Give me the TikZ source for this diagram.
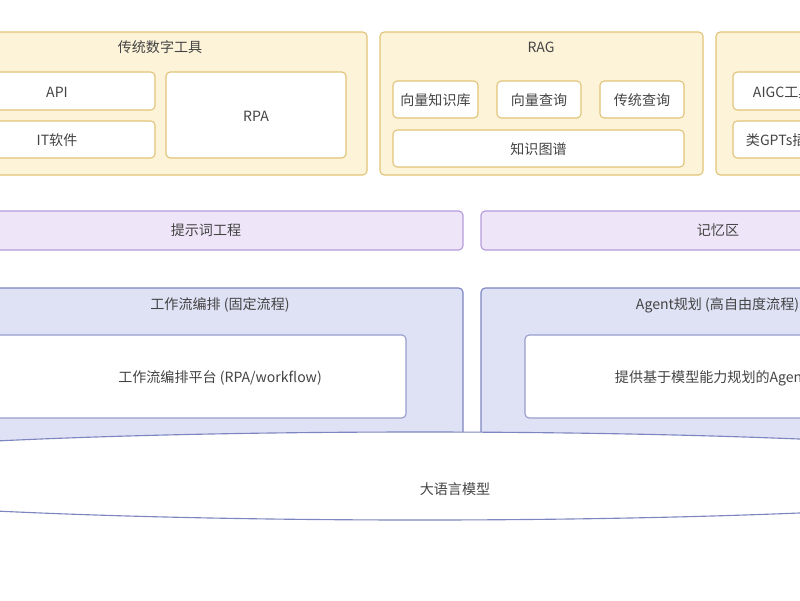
\documentclass[tikz,border=0pt]{standalone}
\usepackage{fontspec}
\setmainfont{Noto Sans CJK SC}
\usetikzlibrary{positioning}
\definecolor{ylwfill}{HTML}{FCF3D8}
\definecolor{ylwline}{HTML}{E2C479}
\definecolor{purfill}{HTML}{EEE6F8}
\definecolor{purline}{HTML}{B49CDB}
\definecolor{blufill}{HTML}{DFE1F5}
\definecolor{bluline}{HTML}{7E86C0}
\definecolor{txt}{HTML}{444444}
\tikzset{
  grp/.style={draw=ylwline, fill=ylwfill, rounded corners=3pt, line width=0.8pt},
  item/.style={draw=ylwline, fill=white, rounded corners=3pt, line width=0.8pt},
  bar/.style={draw=purline, fill=purfill, rounded corners=3pt, line width=0.8pt},
  flow/.style={draw=bluline, fill=blufill, rounded corners=3pt, line width=0.8pt},
  inner/.style={draw=bluline!80, fill=white, rounded corners=3pt, line width=0.8pt},
  lbl/.style={text=txt, font=\fontsize{10}{12}\selectfont}
}
\begin{document}
\begin{tikzpicture}[x=0.025cm, y=-0.025cm]
  \useasboundingbox (0,0) rectangle (800,600);
  \clip (0,0) rectangle (800,600);

  % top row
  \draw[grp] (-20,32) rectangle (367,175);
  \node[lbl] (tools) at (160,47) {传统数字工具};
  \draw[item] (-20,72) rectangle (155,110);
  \node[lbl] (api) at (57,92) {API};
  \draw[item] (-20,121) rectangle (155,158);
  \node[lbl] (it) at (57,140) {IT软件};
  \draw[item] (166,72) rectangle (346,158);
  \node[lbl] (rpa) at (256,116) {RPA};

  \draw[grp] (380,32) rectangle (703,175);
  \node[lbl] (rag) at (541,47) {RAG};
  \draw[item] (393,81) rectangle (478,118);
  \node[lbl] (vkb) at (435.5,100) {向量知识库};
  \draw[item] (497,81) rectangle (581,118);
  \node[lbl] (vq) at (539,100) {向量查询};
  \draw[item] (600,81) rectangle (684,118);
  \node[lbl] (tq) at (642,100) {传统查询};
  \draw[item] (393,130) rectangle (684,167);
  \node[lbl] (kg) at (538.5,149) {知识图谱};

  \draw[grp] (716,32) rectangle (900,175);
  \draw[item] (733,72) rectangle (900,110);
  \node[lbl, anchor=west] (aigc) at (748,92) {AIGC工具};
  \draw[item] (733,121) rectangle (900,158);
  \node[lbl, anchor=west] (gpts) at (741,140) {类GPTs插件};

  % middle bars
  \draw[bar] (-20,211) rectangle (463,250);
  \node[lbl] (prompt) at (206,230) {提示词工程};
  \draw[bar] (481,211) rectangle (900,250);
  \node[lbl] (memory) at (718,230) {记忆区};

  % flow boxes
  \draw[flow] (-20,288) rectangle (463,450);
  \node[lbl] (wf) at (220,305) {工作流编排 (固定流程)};
  \draw[inner] (-20,335) rectangle (406,418);
  \node[lbl] (wfp) at (220,378) {工作流编排平台 (RPA/workflow)};
  \draw[flow] (481,288) rectangle (900,450);
  \node[lbl, anchor=west] (agent) at (631,305) {Agent规划 (高自由度流程)};
  \draw[inner] (525,335) rectangle (900,418);
  \node[lbl, anchor=west] (agp) at (610,378) {提供基于模型能力规划的Agent};

  % model
  \draw[draw=bluline, fill=white, line width=0.8pt] (420,476) ellipse [x radius=700, y radius=44];
  \node[lbl] (llm) at (455,489) {大语言模型};
\end{tikzpicture}
\end{document}
